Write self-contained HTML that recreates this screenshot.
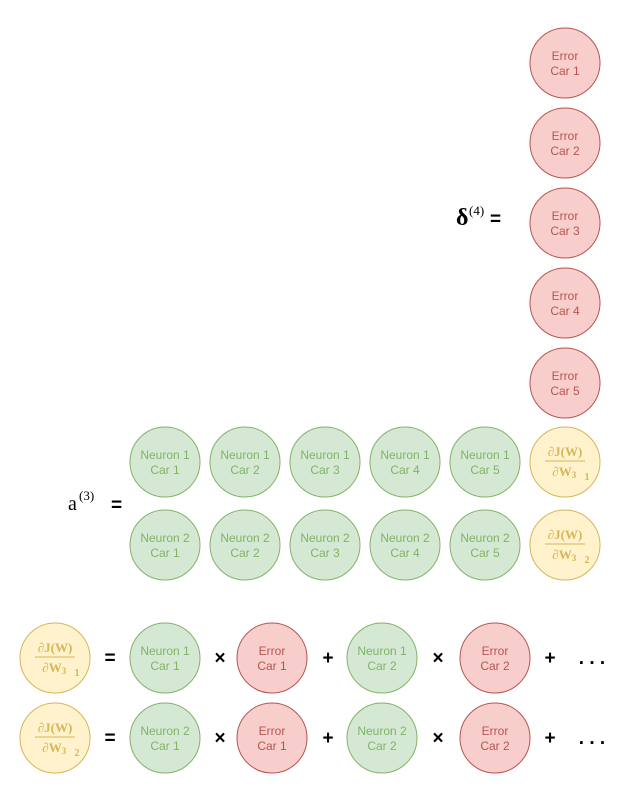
<!DOCTYPE html>
<html><head><meta charset="utf-8"><style>
html,body{margin:0;padding:0;background:#fff;}
svg{display:block;}
</style></head><body>
<svg id="s" width="631" height="802" xmlns="http://www.w3.org/2000/svg" font-family="Liberation Sans, sans-serif">
<g>
<text x="456" y="225" font-family="Liberation Serif, serif" font-size="24" font-weight="bold" fill="#000">δ</text>
<text x="469" y="215" font-family="Liberation Serif, serif" font-size="13" fill="#000">(4)</text>
<text x="490" y="225" font-size="19" font-weight="bold" fill="#000">=</text>
</g>
<g>
<text x="68" y="510" font-family="Liberation Serif, serif" font-size="20" fill="#000">a</text>
<text x="79" y="500" font-family="Liberation Serif, serif" font-size="13" fill="#000">(3)</text>
<text x="111" y="511" font-size="19" font-weight="bold" fill="#000">=</text>
</g>
<circle cx="414" cy="566" r="1.5" fill="#000"/>
</svg>
<script>
const svg=document.getElementById('s');
const NS='http://www.w3.org/2000/svg';
const styles={g:['#d5e8d4','#82b366','#82b366'],r:['#f8cecc','#b85450','#b85450'],y:['#fff2cc','#d6b656','#d6b656']};
function circ(cx,cy,kind,l1,l2,name){
  const g=document.createElementNS(NS,'g');
  
  
  const c=document.createElementNS(NS,'circle');
  c.setAttribute('cx',cx);c.setAttribute('cy',cy);c.setAttribute('r',35);
  c.setAttribute('fill',styles[kind][0]);c.setAttribute('stroke',styles[kind][1]);
  g.appendChild(c);
  if(kind==='y'){
    const t=(x,y,s,txt)=>{const e=document.createElementNS(NS,'text');e.setAttribute('x',x);e.setAttribute('y',y);e.setAttribute('font-size',s);e.setAttribute('font-family','Liberation Serif, serif');e.setAttribute('font-weight','bold');e.setAttribute('fill','#d6b656');e.setAttribute('text-anchor','middle');e.textContent=txt;g.appendChild(e);};
    t(cx,cy-6,13,'∂J(W)');
    const ln=document.createElementNS(NS,'line');ln.setAttribute('x1',cx-20);ln.setAttribute('x2',cx+20);ln.setAttribute('y1',cy-1);ln.setAttribute('y2',cy-1);ln.setAttribute('stroke','#d6b656');g.appendChild(ln);
    t(cx-3,cy+14,13,'∂W');
    t(cx+9,cy+16,9,'3');
    t(cx+22,cy+18,10,l1);
  } else {
    [l1,l2].forEach((txt,i)=>{const e=document.createElementNS(NS,'text');e.setAttribute('x',cx);e.setAttribute('y',cy-3+i*15);e.setAttribute('font-size',12);e.setAttribute('fill',styles[kind][2]);e.setAttribute('text-anchor','middle');e.textContent=txt;g.appendChild(e);});
  }
  svg.appendChild(g);
}
function op(x,y,txt,name){
  const e=document.createElementNS(NS,'text');
  
  
  e.setAttribute('x',x);e.setAttribute('y',y+6);e.setAttribute('font-size',19);e.setAttribute('font-weight','bold');e.setAttribute('text-anchor','middle');e.setAttribute('fill','#000');e.textContent=txt;svg.appendChild(e);
}
for(let i=0;i<5;i++) circ(565,63+80*i,'r','Error','Car '+(i+1),'error-car-'+(i+1));
for(let n=1;n<=2;n++){
  const cy=n===1?462:545;
  for(let i=0;i<5;i++) circ(165+80*i,cy,'g','Neuron '+n,'Car '+(i+1),'neuron-'+n+'-car-'+(i+1));
  circ(565,cy,'y',String(n),'','gradient-'+n);
}
for(let n=1;n<=2;n++){
  const cy=n===1?658:738;
  circ(55,cy,'y',String(n),'','eq-gradient-'+n);
  op(110,cy,'=','equals-sign');
  circ(165,cy,'g','Neuron '+n,'Car 1','eq-neuron-'+n+'-car-1');
  op(220,cy,'×','times-sign');
  circ(272,cy,'r','Error','Car 1','eq-error-car-1');
  op(328,cy,'+','plus-sign');
  circ(382,cy,'g','Neuron '+n,'Car 2','eq-neuron-'+n+'-car-2');
  op(438,cy,'×','times-sign');
  circ(495,cy,'r','Error','Car 2','eq-error-car-2');
  op(550,cy,'+','plus-sign');
  op(592,cy,'. . .','ellipsis');
}
</script>
</body></html>
